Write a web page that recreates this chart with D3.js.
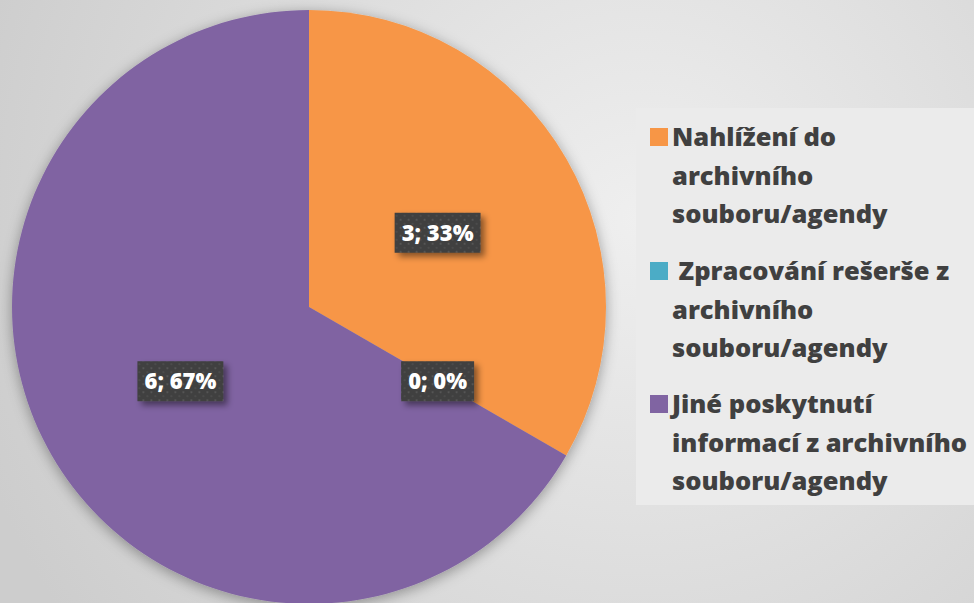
<!DOCTYPE html>
<html>
<head>
<meta charset="utf-8">
<script src="https://cdn.jsdelivr.net/npm/d3@7"></script>
<style>
  html, body { margin: 0; padding: 0; }
  body { width: 974px; height: 603px; overflow: hidden; }
</style>
</head>
<body>
<svg id="chart" width="974" height="603"></svg>
<script>
// chart data
const categories = [
  'Nahlížení do\narchivního\nsouboru/agendy',
  ' Zpracování rešerše z\narchivního\nsouboru/agendy',
  'Jiné poskytnutí\ninformací z archivního\nsouboru/agendy',
];
const values = [3, 0, 6];
const colors = ['#f79646', '#4bacc6', '#8064a2'];

const width = 974;
const height = 603;
const font = '"Open Sans", sans-serif';
const svg = d3.select('#chart');
const defs = svg.append('defs');

// background gradient
const bg = defs.append('radialGradient')
  .attr('id', 'bgGrad')
  .attr('gradientUnits', 'userSpaceOnUse')
  .attr('cx', 640).attr('cy', 220).attr('r', 700);
bg.append('stop').attr('offset', '0%').attr('stop-color', '#efefef');
bg.append('stop').attr('offset', '100%').attr('stop-color', '#cdcdcd');

defs.append('filter')
  .attr('id', 'pieShadow')
  .attr('x', '-10%').attr('y', '-10%')
  .attr('width', '120%').attr('height', '120%')
  .append('feDropShadow')
  .attr('dx', 0).attr('dy', 3)
  .attr('stdDeviation', 7)
  .attr('flood-color', '#000')
  .attr('flood-opacity', 0.35);

defs.append('filter')
  .attr('id', 'boxShadow')
  .attr('x', '-20%').attr('y', '-30%')
  .attr('width', '150%').attr('height', '170%')
  .append('feDropShadow')
  .attr('dx', 4).attr('dy', 4)
  .attr('stdDeviation', 3)
  .attr('flood-color', '#000')
  .attr('flood-opacity', 0.45);

// dotted fill of the data label boxes
const pat = defs.append('pattern')
  .attr('id', 'dots')
  .attr('patternUnits', 'userSpaceOnUse')
  .attr('width', 8).attr('height', 8);
pat.append('rect').attr('width', 8).attr('height', 8).attr('fill', '#3f3f3f');
pat.append('rect').attr('x', 2).attr('y', 2).attr('width', 2).attr('height', 2).attr('fill', '#545454');
pat.append('rect').attr('x', 6).attr('y', 6).attr('width', 2).attr('height', 2).attr('fill', '#4c4c4c');

svg.append('rect')
  .attr('width', width).attr('height', height)
  .attr('fill', 'url(#bgGrad)');

// pie
const cx = 309;
const cy = 307;
const radius = 297;
const total = d3.sum(values);

const pie = d3.pie().sort(null).value((d) => d);
const arcs = pie(values);
const arc = d3.arc().innerRadius(0).outerRadius(radius);

const pieG = svg.append('g')
  .attr('transform', `translate(${cx},${cy})`);

pieG.append('g')
  .attr('filter', 'url(#pieShadow)')
  .selectAll('path')
  .data(arcs)
  .join('path')
  .attr('d', arc)
  .attr('fill', (d, i) => colors[i]);

// data labels
const labels = pieG.selectAll('g.lbl')
  .data(arcs)
  .join('g')
  .attr('class', 'lbl')
  .attr('transform', (d) => `translate(${arc.centroid(d)})`);

labels.append('text')
  .attr('text-anchor', 'middle')
  .attr('dy', '0.36em')
  .attr('fill', '#fff')
  .style('font-family', font)
  .style('font-weight', 800)
  .style('font-size', '22px')
  .text((d) => `${d.value}; ${Math.round((d.value / total) * 100)}%`)
  .each(function () {
    const b = this.getBBox();
    d3.select(this.parentNode).insert('rect', 'text')
      .attr('x', -b.width / 2 - 7)
      .attr('y', -20)
      .attr('width', b.width + 14)
      .attr('height', 40)
      .attr('fill', 'url(#dots)')
      .attr('filter', 'url(#boxShadow)');
  });

// legend
const legend = svg.append('g');
legend.append('rect')
  .attr('x', 636).attr('y', 108)
  .attr('width', 338).attr('height', 397)
  .attr('fill', '#ebebeb');

const itemTop = [137, 271, 404];
const lineGap = 38.5;

const items = legend.selectAll('g.item')
  .data(categories)
  .join('g')
  .attr('class', 'item')
  .attr('transform', (d, i) => `translate(650,${itemTop[i]})`);

items.append('rect')
  .attr('x', 0).attr('y', -9)
  .attr('width', 18).attr('height', 18)
  .attr('fill', (d, i) => colors[i]);

items.append('text')
  .attr('fill', '#404040')
  .style('font-family', font)
  .style('font-weight', 800)
  .style('font-size', '25.5px')
  .style('white-space', 'pre')
  .selectAll('tspan')
  .data((d) => d.split('\n'))
  .join('tspan')
  .attr('x', 22)
  .attr('y', (d, j) => j * lineGap)
  .attr('dy', '0.36em')
  .text((d) => d);
</script>
</body>
</html>
